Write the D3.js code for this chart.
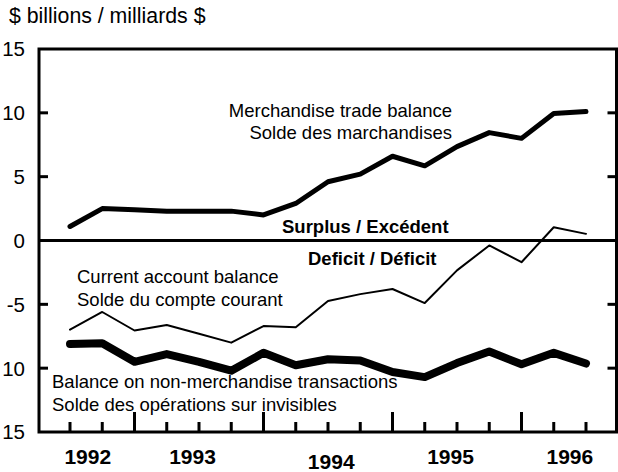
<!DOCTYPE html>
<html>
<head>
<meta charset="utf-8">
<script src="https://cdn.jsdelivr.net/npm/d3@7"></script>
<style>
  html, body { margin: 0; padding: 0; background: #fff; }
  svg { display: block; font-family: "Liberation Sans", Arial, Helvetica, sans-serif; }
</style>
</head>
<body>
<svg id="chart" width="618" height="472"></svg>
<script>
// ---- Data (quarterly, 1992 Q3 – 1996 Q3) ----
const quarters = ["1992Q3","1992Q4","1993Q1","1993Q2","1993Q3","1993Q4","1994Q1","1994Q2","1994Q3","1994Q4","1995Q1","1995Q2","1995Q3","1995Q4","1996Q1","1996Q2","1996Q3"];
const merchandise = [1.1, 2.5, 2.4, 2.3, 2.3, 2.3, 2.0, 2.9, 4.6, 5.2, 6.6, 5.85, 7.35, 8.45, 8.0, 9.95, 10.1];
const currentAccount = [-6.98, -5.6, -7.05, -6.62, -7.3, -8.0, -6.7, -6.8, -4.74, -4.2, -3.8, -4.9, -2.34, -0.39, -1.7, 1.04, 0.52];
const nonMerchandise = [-8.1, -8.05, -9.5, -8.9, -9.5, -10.2, -8.8, -9.77, -9.3, -9.4, -10.3, -10.7, -9.6, -8.7, -9.7, -8.8, -9.64];
const yTicks = [15, 10, 5, 0, -5, -10, -15];
const yTickLabels = ["15", "10", "5", "0", "-5", "10", "15"];
const yearLabels = ["1992", "1993", "1994", "1995", "1996"];
const yearLabelAt = [0.55, 3.8, 8.1, 11.8, 15.5]; // positions in quarter-index units
const yearStartIdx = [2, 6, 10, 14]; // first quarter of 1993..1996

// ---- Layout ----
const svg = d3.select("#chart");
const L = 39, R = 616.5, T = 49, B = 432;
const x = d3.scaleLinear().domain([0, quarters.length - 1]).range([70, 586]);
const y = d3.scaleLinear().domain([-15, 15]).range([B, T]);

// Title
svg.append("text").attr("x", 9).attr("y", 23)
  .attr("font-size", "21.3px").text("$ billions / milliards $");

// Y tick labels
svg.append("g").selectAll("text").data(yTicks).join("text")
  .attr("x", 25).attr("y", d => y(d)).attr("dy", "0.36em")
  .attr("text-anchor", "end").attr("font-size", "20.5px")
  .text((d, i) => yTickLabels[i]);

// Annotations
const ann = svg.append("g").attr("font-size", "18.5px");
ann.append("text").attr("x", 452).attr("y", 117).attr("text-anchor", "end").text("Merchandise trade balance");
ann.append("text").attr("x", 452).attr("y", 139).attr("text-anchor", "end").text("Solde des marchandises");
ann.append("text").attr("x", 282).attr("y", 233).attr("font-weight", "bold").text("Surplus / Excédent");
ann.append("text").attr("x", 308).attr("y", 265).attr("font-weight", "bold").text("Deficit / Déficit");
ann.append("text").attr("x", 77).attr("y", 283).text("Current account balance");
ann.append("text").attr("x", 77).attr("y", 306).text("Solde du compte courant");
ann.append("text").attr("x", 52).attr("y", 388).text("Balance on non-merchandise transactions");
ann.append("text").attr("x", 52).attr("y", 411).text("Solde des opérations sur invisibles");

// Frame
svg.append("rect").attr("x", L).attr("y", T).attr("width", R - L).attr("height", B - T)
  .attr("fill", "none").attr("stroke", "#000").attr("stroke-width", 3);

// Zero line
svg.append("line").attr("x1", L).attr("x2", R).attr("y1", y(0)).attr("y2", y(0))
  .attr("stroke", "#000").attr("stroke-width", 3);

// Y ticks (left and right, inward)
const inner = yTicks.filter(d => d !== 0 && Math.abs(d) !== 15);
svg.append("g").selectAll("line").data(inner).join("line")
  .attr("x1", L).attr("x2", L + 9).attr("y1", d => y(d)).attr("y2", d => y(d))
  .attr("stroke", "#000").attr("stroke-width", 3);
svg.append("g").selectAll("line").data(inner).join("line")
  .attr("x1", R - 9).attr("x2", R).attr("y1", d => y(d)).attr("y2", d => y(d))
  .attr("stroke", "#000").attr("stroke-width", 3);

// X ticks (quarters; taller at year starts)
svg.append("g").selectAll("line").data(quarters.map((q, i) => i)).join("line")
  .attr("x1", d => x(d)).attr("x2", d => x(d))
  .attr("y1", B).attr("y2", d => yearStartIdx.includes(d) ? B - 20 : B - 10)
  .attr("stroke", "#000").attr("stroke-width", 3);

// Year labels
svg.append("g").selectAll("text").data(yearLabels).join("text")
  .attr("x", (d, i) => x(yearLabelAt[i]))
  .attr("y", d => d === "1994" ? 469 : 464)
  .attr("text-anchor", "middle").attr("font-weight", "bold").attr("font-size", "21px")
  .text(d => d);

// Lines
const line = d3.line().x((d, i) => x(i)).y(d => y(d));
const series = [
  { values: merchandise, w: 5 },
  { values: currentAccount, w: 2 },
  { values: nonMerchandise, w: 8 }
];
svg.append("g").selectAll("path").data(series).join("path")
  .attr("d", d => line(d.values))
  .attr("fill", "none").attr("stroke", "#000")
  .attr("stroke-width", d => d.w)
  .attr("stroke-linejoin", "round").attr("stroke-linecap", "round");
</script>
</body>
</html>
